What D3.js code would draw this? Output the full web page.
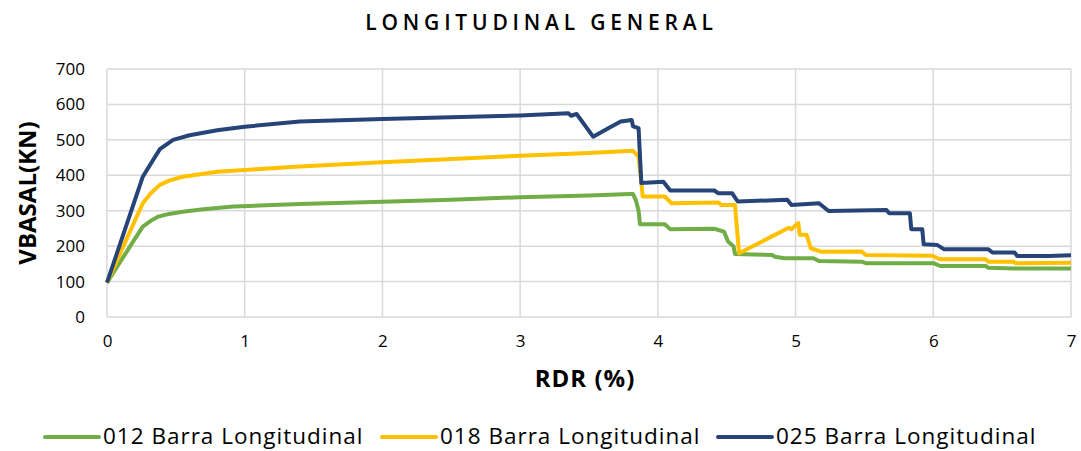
<!DOCTYPE html>
<html>
<head>
<meta charset="utf-8">
<script src="https://cdn.jsdelivr.net/npm/d3@7"></script>
<style>
  body { margin: 0; background: #fff; }
  svg { display: block; font-family: "Open Sans", sans-serif; }
</style>
</head>
<body>
<div id="container"></div>
<script>
const xTicks = [0, 1, 2, 3, 4, 5, 6, 7];
const yTicks = [0, 100, 200, 300, 400, 500, 600, 700];
const seriesNames = ['012 Barra Longitudinal', '018 Barra Longitudinal', '025 Barra Longitudinal'];
const seriesColors = ['#70ad47', '#ffc000', '#264478'];

// RDR (%) and VBASAL (kN)
const rdr012 = [0, 0.1, 0.2, 0.26, 0.32, 0.37, 0.45, 0.55, 0.7, 0.92, 1.2, 1.4, 2, 2.5, 3, 3.5, 3.8, 3.82, 3.84, 3.86, 3.87, 4.05, 4.09, 4.41, 4.48, 4.51, 4.55, 4.56, 4.83, 4.85, 4.92, 5.13, 5.17, 5.48, 5.51, 6.0, 6.05, 6.38, 6.4, 6.59, 7.0];
const vb012 = [97, 158, 219, 255, 272, 283, 291, 297, 304, 312, 316, 319, 325, 331, 338, 343, 347, 347, 330, 300, 262, 262, 248, 249, 241, 213, 199, 178, 175, 170, 166, 166, 158, 156, 152, 152, 144, 144, 139, 137, 137];

const rdr018 = [0, 0.1, 0.2, 0.26, 0.32, 0.384, 0.45, 0.55, 0.8, 1.0, 1.4, 2, 2.5, 3, 3.5, 3.82, 3.86, 3.88, 3.89, 4.05, 4.1, 4.44, 4.46, 4.56, 4.59, 4.8, 4.95, 4.97, 5.02, 5.03, 5.08, 5.11, 5.19, 5.48, 5.51, 5.99, 6.05, 6.38, 6.4, 6.58, 6.6, 7.0];
const vb018 = [97, 183, 270, 321, 350, 373, 385, 396, 410, 415, 425, 437, 446, 455, 463, 469, 453, 380, 340, 340, 321, 323, 316, 316, 180, 222, 252, 248, 265, 232, 232, 194, 184, 185, 175, 173, 163, 163, 156, 156, 152, 153];

const rdr025 = [0, 0.1, 0.2, 0.26, 0.32, 0.384, 0.48, 0.6, 0.8, 1.0, 1.4, 2, 2.5, 3, 3.35, 3.37, 3.41, 3.53, 3.65, 3.73, 3.81, 3.82, 3.86, 3.88, 4.04, 4.09, 4.41, 4.44, 4.54, 4.58, 4.94, 4.97, 5.17, 5.24, 5.66, 5.68, 5.83, 5.84, 5.92, 5.93, 6.03, 6.08, 6.4, 6.43, 6.59, 6.61, 6.84, 7.0];
const vb025 = [97, 212, 327, 396, 434, 474, 500, 513, 527, 537, 552, 559, 564, 569, 575, 568, 573, 509, 535, 552, 556, 538, 533, 378, 382, 357, 357, 349, 349, 326, 331, 316, 321, 299, 302, 293, 293, 248, 248, 205, 203, 191, 191, 182, 182, 172, 172, 174];

const seriesX = [rdr012, rdr018, rdr025];
const seriesY = [vb012, vb018, vb025];

const width = 1081, height = 451;
const margin = { top: 69, right: 10, bottom: 134, left: 107 };

const svg = d3.select('#container').append('svg')
  .attr('width', width)
  .attr('height', height);

const x = d3.scaleLinear().domain([0, 7]).range([margin.left, width - margin.right]);
const y = d3.scaleLinear().domain([0, 700]).range([height - margin.bottom, margin.top]);

// grid
svg.append('g')
  .selectAll('line')
  .data(yTicks)
  .join('line')
    .attr('x1', x(0)).attr('x2', x(7))
    .attr('y1', d => y(d)).attr('y2', d => y(d))
    .attr('stroke', '#d9d9d9').attr('stroke-width', 1.5);

svg.append('g')
  .selectAll('line')
  .data(xTicks)
  .join('line')
    .attr('x1', d => x(d)).attr('x2', d => x(d))
    .attr('y1', y(0)).attr('y2', y(700))
    .attr('stroke', '#d9d9d9').attr('stroke-width', 1.5);

// axes
const xAxis = svg.append('g')
  .attr('transform', `translate(0,${y(0)})`)
  .call(d3.axisBottom(x).tickValues(xTicks).tickSize(0).tickPadding(18).tickFormat(d3.format('d')));
xAxis.select('.domain').remove();
xAxis.selectAll('text').attr('font-size', 17).attr('fill', '#000').attr('font-family', '"Open Sans", sans-serif');

const yAxis = svg.append('g')
  .attr('transform', `translate(${x(0)},0)`)
  .call(d3.axisLeft(y).tickValues(yTicks).tickSize(0).tickPadding(22).tickFormat(d3.format('d')));
yAxis.select('.domain').remove();
yAxis.selectAll('text').attr('font-size', 17).attr('fill', '#000').attr('font-family', '"Open Sans", sans-serif');

// lines
const line = d3.line()
  .x(d => x(d[0]))
  .y(d => y(d[1]));

svg.append('g')
  .selectAll('path')
  .data(seriesX.map((xs, i) => xs.map((v, j) => [v, seriesY[i][j]])))
  .join('path')
    .attr('d', line)
    .attr('fill', 'none')
    .attr('stroke', (d, i) => seriesColors[i])
    .attr('stroke-width', 4)
    .attr('stroke-linejoin', 'round');

// titles
svg.append('text')
  .attr('x', width / 2 + 1).attr('y', 30)
  .attr('text-anchor', 'middle')
  .attr('font-size', 21)
  .attr('font-weight', 600)
  .attr('letter-spacing', 4.8)
  .text('LONGITUDINAL GENERAL');

svg.append('text')
  .attr('x', (x(0) + x(7)) / 2 - 4).attr('y', 387)
  .attr('text-anchor', 'middle')
  .attr('font-size', 24)
  .attr('font-weight', 'bold')
  .attr('letter-spacing', 1)
  .text('RDR (%)');

svg.append('text')
  .attr('transform', `translate(36,${(y(0) + y(700)) / 2}) rotate(-90)`)
  .attr('text-anchor', 'middle')
  .attr('font-size', 24)
  .attr('font-weight', 'bold')
  .text('VBASAL(KN)');

// legend
const legendX = [45, 382, 718];
const legend = svg.append('g')
  .selectAll('g')
  .data(seriesNames)
  .join('g')
    .attr('transform', (d, i) => `translate(${legendX[i]},437)`);

legend.append('line')
  .attr('x1', 0).attr('x2', 54)
  .attr('stroke', (d, i) => seriesColors[i])
  .attr('stroke-width', 4)
  .attr('stroke-linecap', 'round');

legend.append('text')
  .attr('x', 58).attr('y', 7)
  .attr('font-size', 22.5)
  .attr('letter-spacing', 1)
  .text(d => d);
</script>
</body>
</html>
